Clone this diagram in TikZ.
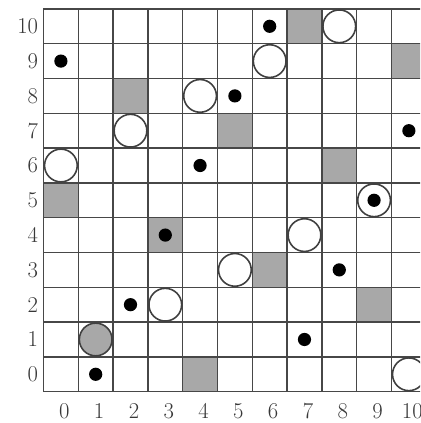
\documentclass[tikz,border=0pt]{standalone}
\begin{document}
\begin{tikzpicture}[x=1cm,y=1cm,
  gridline/.style={draw=black!72, line width=1.2pt},
  shadecell/.style={fill=black!34},
  ring/.style={draw=black!75, line width=1.3pt, fill=white},
  grayring/.style={draw=black!75, line width=1.3pt, fill=black!34},
  blackdot/.style={fill=black},
  lab/.style={font=\fontsize{18.5}{21}\selectfont, text=black!78, inner sep=0pt}]
\useasboundingbox (-1.25,-0.9) rectangle (10.82,11.256);
\clip (-1.25,-0.9) rectangle (10.82,11.256);
% shaded cells
\foreach \c/\r in {7/10,10/9,2/8,5/7,8/6,0/5,3/4,6/3,9/2,4/0}
  \fill[shadecell] (\c,\r) rectangle ++(1,1);
% grid
\draw[gridline] (0,0) grid (11,11);
% circles
\foreach \c/\r in {8/10,6/9,4/8,2/7,0/6,9/5,7/4,5/3,3/2,10/0}
  \draw[ring] (\c+0.5,\r+0.5) circle (0.47);
\draw[grayring] (1.5,1.5) circle (0.47);
% dots
\foreach \c/\r in {6/10,0/9,5/8,10/7,4/6,9/5,3/4,8/3,2/2,7/1,1/0}
  \fill[blackdot] (\c+0.5,\r+0.5) circle (0.19);
% labels
\foreach \i in {0,...,10} {
  \node[lab, anchor=east] (row\i) at (-0.15,\i+0.5) {\i};
  \node[lab] (col\i) at (\i+0.6,-0.55) {\i};
}
\end{tikzpicture}
\end{document}
